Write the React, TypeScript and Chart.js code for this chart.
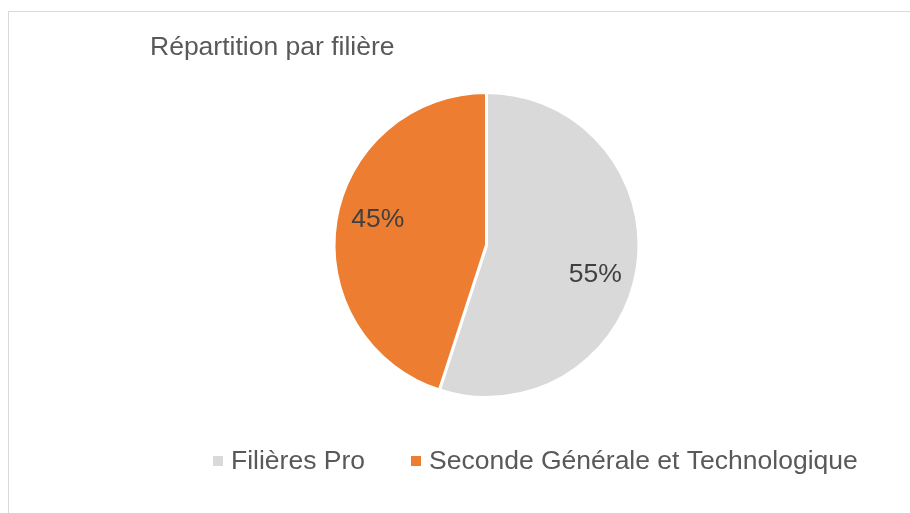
import React, { useEffect, useRef } from "react";
import { Chart, registerables } from "chart.js";

Chart.register(...registerables);

const TITLE = "Répartition par filière";
const categories = ["Filières Pro", "Seconde Générale et Technologique"];
const shares = [55, 45];
const sliceColors = ["#D9D9D9", "#ED7D31"];

const FONT = "'Liberation Sans', Arial, sans-serif";
const FONT_SIZE = 26.5;

const overlayPlugin = {
  id: "overlay",
  afterDraw(chart: any) {
    const ctx = chart.ctx as CanvasRenderingContext2D;
    ctx.save();
    ctx.font = `${FONT_SIZE}px ${FONT}`;
    ctx.textBaseline = "alphabetic";

    // Title
    ctx.fillStyle = "#595959";
    ctx.textAlign = "left";
    ctx.fillText(TITLE, 150, 55);

    // Percentage labels
    const meta = chart.getDatasetMeta(0);
    const values: number[] = chart.data.datasets[0].data;
    const total = values.reduce((s, v) => s + v, 0);
    meta.data.forEach((arc: any, i: number) => {
      const p = arc.getProps(["x", "y", "startAngle", "endAngle", "outerRadius"], true);
      const a = (p.startAngle + p.endAngle) / 2 + (5 * Math.PI) / 180;
      const r = p.outerRadius * 0.735;
      const px = p.x + r * Math.cos(a);
      const py = p.y + r * Math.sin(a);
      const txt = `${Math.round((values[i] / total) * 100)}%`;
      ctx.fillStyle = "#404040";
      ctx.textAlign = "center";
      ctx.fillText(txt, px, py + 9.5);
    });

    // Legend
    let lx = 213;
    const labels: string[] = chart.data.labels;
    const colors: string[] = chart.data.datasets[0].backgroundColor;
    labels.forEach((label, i) => {
      ctx.fillStyle = colors[i];
      ctx.fillRect(lx, 456, 10, 10);
      ctx.fillStyle = "#595959";
      ctx.textAlign = "left";
      ctx.fillText(label, lx + 18, 469);
      lx += 18 + ctx.measureText(label).width + 46;
    });
    ctx.restore();
  },
};

export default function App() {
  const canvasRef = useRef<HTMLCanvasElement | null>(null);

  useEffect(() => {
    if (!canvasRef.current) return;
    const chart = new Chart(canvasRef.current, {
      type: "pie",
      data: {
        labels: categories,
        datasets: [
          {
            data: shares,
            backgroundColor: sliceColors,
            borderColor: "#FFFFFF",
            borderWidth: 3,
          },
        ],
      },
      options: {
        responsive: false,
        animation: false,
        layout: { padding: { top: 91, bottom: 114, left: 300, right: 237 } },
        plugins: {
          legend: { display: false },
          tooltip: { enabled: false },
          title: { display: false },
        },
      },
      plugins: [overlayPlugin],
    });
    return () => chart.destroy();
  }, []);

  return (
    <>
      <div
        style={{
          position: "fixed",
          left: 8,
          top: 11,
          width: 1000,
          height: 1000,
          border: "1px solid #D9D9D9",
          pointerEvents: "none",
        }}
      />
      <canvas
        ref={canvasRef}
        width={910}
        height={513}
        style={{ position: "fixed", left: 0, top: 0, display: "block" }}
      />
    </>
  );
}
